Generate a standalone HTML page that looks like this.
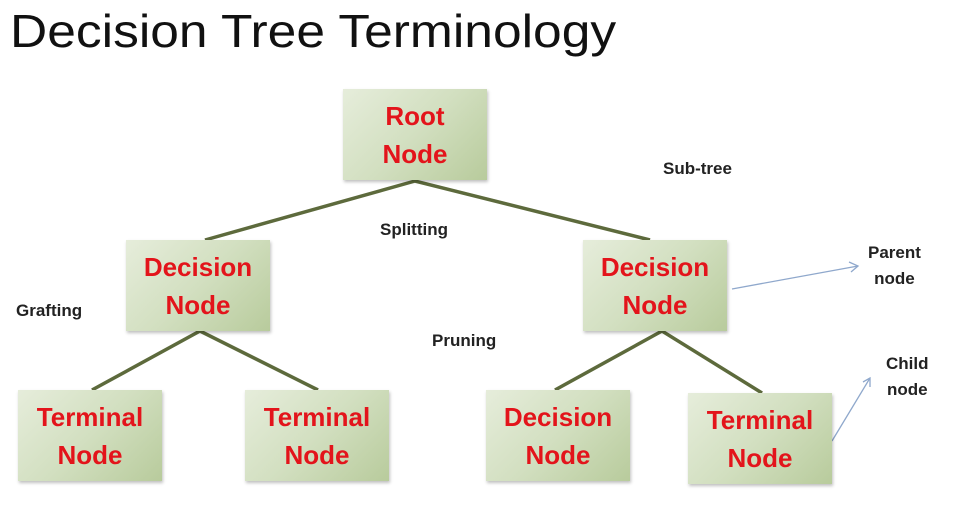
<!DOCTYPE html>
<html><head><style>
body{margin:0;width:954px;height:524px;background:#fff;position:relative;overflow:hidden;font-family:"Liberation Sans",sans-serif}
.t{position:absolute;left:10px;top:4px;font-size:46px;color:#111;transform:scaleX(1.12);transform-origin:left top}
.b{position:absolute;width:144px;height:91px;background:linear-gradient(135deg,#e6eddb 0%,#d2dfc0 50%,#b8cb9c 100%);box-shadow:1px 2px 3px rgba(0,0,0,.25);display:flex;align-items:center;justify-content:center;text-align:center;color:#e3141b;font-weight:bold;font-size:26px;line-height:38px}
.l{position:absolute;font-weight:bold;font-size:17px;color:#222;text-align:center;line-height:26px}
</style></head><body>
<div class="t">Decision Tree Terminology</div>
<svg width="954" height="524" style="position:absolute;left:0;top:0">
<g stroke="#5d6a3c" stroke-width="3.5" fill="none">
<polyline points="205,240 415,181 650,240"/>
<polyline points="92,390 200,331 318,390"/>
<polyline points="555,390 662,331 762,393"/>
</g>
<g stroke="#8fa8cc" stroke-width="1.3" fill="none">
<line x1="732" y1="289" x2="858" y2="266"/>
<polyline points="849,262 858,266 851,272"/>
<line x1="832" y1="441" x2="870" y2="378"/>
<polyline points="863,382 870,378 870,387"/>
</g>
</svg>
<div class="b" style="left:343px;top:89px">Root<br>Node</div>
<div class="b" style="left:126px;top:240px">Decision<br>Node</div>
<div class="b" style="left:583px;top:240px">Decision<br>Node</div>
<div class="b" style="left:18px;top:390px">Terminal<br>Node</div>
<div class="b" style="left:245px;top:390px">Terminal<br>Node</div>
<div class="b" style="left:486px;top:390px">Decision<br>Node</div>
<div class="b" style="left:688px;top:393px">Terminal<br>Node</div>
<div class="l" style="left:663px;top:156px">Sub-tree</div>
<div class="l" style="left:380px;top:217px">Splitting</div>
<div class="l" style="left:16px;top:298px">Grafting</div>
<div class="l" style="left:432px;top:328px">Pruning</div>
<div class="l" style="left:868px;top:240px">Parent<br>node</div>
<div class="l" style="left:886px;top:351px">Child<br>node</div>
</body></html>
